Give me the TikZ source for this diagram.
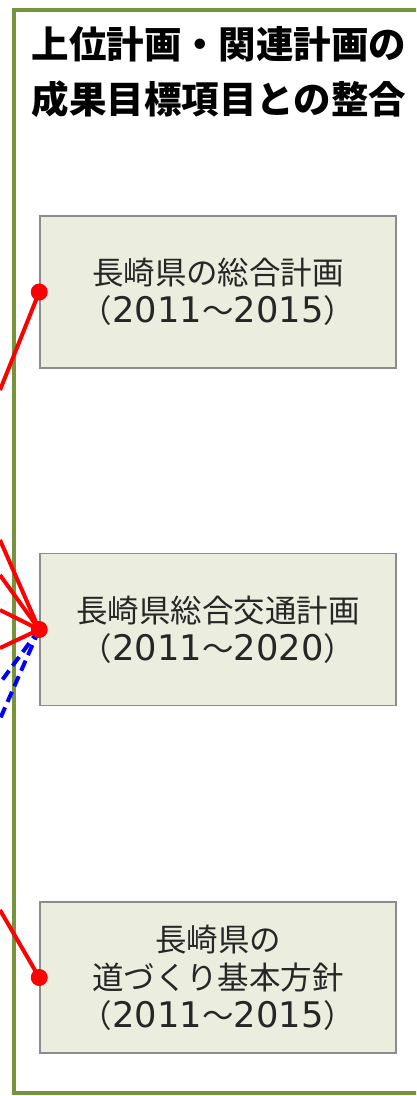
\documentclass[tikz,border=0pt]{standalone}
\usepackage{fontspec}
\newfontfamily\jpfont{Noto Sans CJK JP}
\newfontfamily\numfont[Scale=1.12]{DejaVu Sans}
\usetikzlibrary{positioning}

\definecolor{framegreen}{RGB}{119,147,60}
\definecolor{boxfill}{RGB}{235,238,222}
\definecolor{boxgray}{RGB}{140,140,140}

% years in wider digits
\newcommand{\yr}[1]{{\numfont #1}}

\tikzset{
  planbox/.style={draw=boxgray, line width=1.5pt, fill=boxfill, minimum width=356pt, minimum height=152pt,
    inner sep=0pt, align=center, text=black!85, font=\jpfont\fontsize{31.5}{38}\selectfont},
  redlink/.style={red, line width=4pt},
  bluelink/.style={blue, line width=4pt, dash pattern=on 11pt off 6pt},
  reddot/.style={circle, fill=red, inner sep=0pt, minimum size=17pt}
}

\begin{document}
\begin{tikzpicture}[x=1pt,y=-1pt]

\useasboundingbox (0,0) rectangle (416,1096);
\clip (0,0) rectangle (416,1096);

% frame
\draw[framegreen, line width=3.5pt] (14,10) rectangle (430,1093);

% title
\node (title) at (219,72) [align=center, font=\jpfont\bfseries\fontsize{37.5}{55}\selectfont]
  {上位計画・関連計画の\\成果目標項目との整合};

% plans
\node[planbox] (sogo) at (218,292) {長崎県の総合計画\\（\yr{2011}～\yr{2015}）};
\node[planbox] (kotsu) at (218,629.5) {長崎県総合交通計画\\（\yr{2011}～\yr{2020}）};
\node[planbox, minimum height=151pt] (michi) at (218,977.5) {長崎県の\\道づくり基本方針\\（\yr{2011}～\yr{2015}）};

% free ends on the left
\coordinate (a1) at (0,390);
\coordinate (b1) at (0,540);
\coordinate (b2) at (0,575);
\coordinate (b3) at (0,610);
\coordinate (b4) at (0,648);
\coordinate (b5) at (0,683);
\coordinate (b6) at (0,719);
\coordinate (c1) at (0,910);

% links
\draw[redlink] (sogo.west) -- (a1);
\draw[redlink] (kotsu.west) -- (b1);
\draw[redlink] (kotsu.west) -- (b2);
\draw[redlink] (kotsu.west) -- (b3);
\draw[redlink] (kotsu.west) -- (b4);
\draw[bluelink] (kotsu.west) -- (b5);
\draw[bluelink] (kotsu.west) -- (b6);
\draw[redlink] (michi.west) -- (c1);

% dots
\node[reddot] (d1) at (sogo.west) {};
\node[reddot] (d2) at (kotsu.west) {};
\node[reddot] (d3) at (michi.west) {};

\end{tikzpicture}
\end{document}
